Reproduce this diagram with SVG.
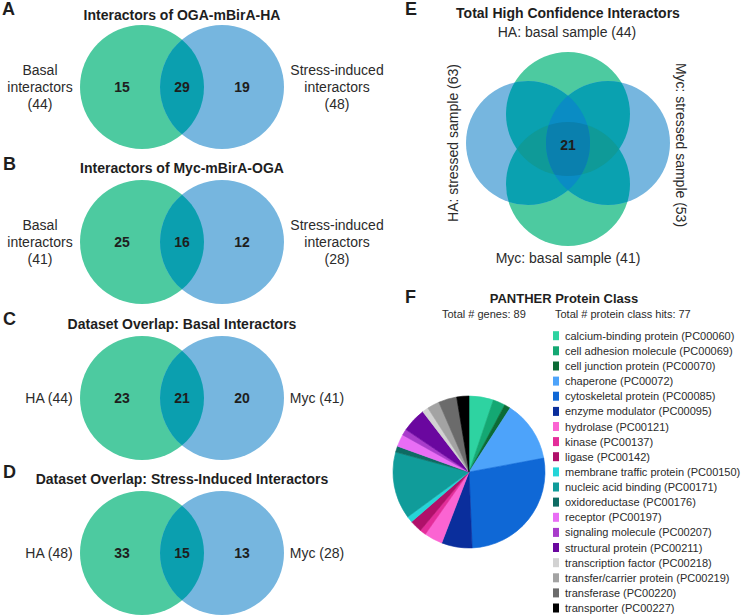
<svg xmlns="http://www.w3.org/2000/svg" width="745" height="616" viewBox="0 0 745 616">
<style>
text{font-family:"Liberation Sans",Arial,Helvetica,sans-serif;fill:#1e1e1e}
.pl{font-size:18px;font-weight:bold}
.tt{font-size:14px;font-weight:bold;text-anchor:middle}
.lb{font-size:14px;text-anchor:middle;fill:#2b2b2b}
.nm{font-size:14px;font-weight:bold;text-anchor:middle}
.lg{font-size:11px;fill:#2b2b2b}
.g{fill:#4DCAA0}
.b{fill:#76B6DF}
.ov{fill:#0B9FAF}
.gb{fill:#0AA1B0}
.gg{fill:#0F9A98}
.bb{fill:#0A8CC4}
.q{fill:#0A80AE}
.sl{stroke-width:0.6}
</style>
<defs>
<clipPath id="cGT"><circle cx="568" cy="114" r="62"/></clipPath>
<clipPath id="cGB"><circle cx="568" cy="184" r="62"/></clipPath>
<clipPath id="cBL"><circle cx="528" cy="143" r="62"/></clipPath>
<clipPath id="cBR"><circle cx="608" cy="143" r="62"/></clipPath>
</defs>

<g id="panelA">
<text class="pl" x="2" y="15">A</text>
<text class="tt" x="182" y="20">Interactors of OGA-mBirA-HA</text>
<g id="vennA">
<circle class="g" cx="142" cy="87" r="62"/>
<circle class="b" cx="222" cy="87" r="62"/>
<path class="ov" d="M182,39.63 A62,62 0 0,1 182,134.37 A62,62 0 0,1 182,39.63Z"/>
</g>
<text class="nm" x="122" y="92">15</text>
<text class="nm" x="182" y="92">29</text>
<text class="nm" x="242" y="92">19</text>
<text class="lb" x="40" y="75">Basal</text>
<text class="lb" x="40" y="92">interactors</text>
<text class="lb" x="40" y="109">(44)</text>
<text class="lb" x="337" y="75">Stress-induced</text>
<text class="lb" x="337" y="92">interactors</text>
<text class="lb" x="337" y="109">(48)</text>
</g>

<g id="panelB">
<text class="pl" x="3" y="170">B</text>
<text class="tt" x="182" y="173">Interactors of Myc-mBirA-OGA</text>
<g id="vennB">
<circle class="g" cx="142" cy="242" r="62"/>
<circle class="b" cx="222" cy="242" r="62"/>
<path class="ov" d="M182,194.63 A62,62 0 0,1 182,289.37 A62,62 0 0,1 182,194.63Z"/>
</g>
<text class="nm" x="122" y="247">25</text>
<text class="nm" x="182" y="247">16</text>
<text class="nm" x="242" y="247">12</text>
<text class="lb" x="40" y="230">Basal</text>
<text class="lb" x="40" y="247">interactors</text>
<text class="lb" x="40" y="264">(41)</text>
<text class="lb" x="337" y="230">Stress-induced</text>
<text class="lb" x="337" y="247">interactors</text>
<text class="lb" x="337" y="264">(28)</text>
</g>

<g id="panelC">
<text class="pl" x="3" y="325">C</text>
<text class="tt" x="182" y="329">Dataset Overlap: Basal Interactors</text>
<g id="vennC">
<circle class="g" cx="142" cy="398" r="62"/>
<circle class="b" cx="222" cy="398" r="62"/>
<path class="ov" d="M182,350.63 A62,62 0 0,1 182,445.37 A62,62 0 0,1 182,350.63Z"/>
</g>
<text class="nm" x="122" y="403">23</text>
<text class="nm" x="182" y="403">21</text>
<text class="nm" x="242" y="403">20</text>
<text class="lb" x="49" y="403">HA (44)</text>
<text class="lb" x="317" y="403">Myc (41)</text>
</g>

<g id="panelD">
<text class="pl" x="3" y="478">D</text>
<text class="tt" x="182" y="484">Dataset Overlap: Stress-Induced Interactors</text>
<g id="vennD">
<circle class="g" cx="142" cy="553" r="62"/>
<circle class="b" cx="222" cy="553" r="62"/>
<path class="ov" d="M182,505.63 A62,62 0 0,1 182,600.37 A62,62 0 0,1 182,505.63Z"/>
</g>
<text class="nm" x="122" y="558">33</text>
<text class="nm" x="182" y="558">15</text>
<text class="nm" x="242" y="558">13</text>
<text class="lb" x="49" y="558">HA (48)</text>
<text class="lb" x="317" y="558">Myc (28)</text>
</g>

<g id="panelE">
<text class="pl" x="405" y="15">E</text>
<text class="tt" x="568" y="18">Total High Confidence Interactors</text>
<g id="vennE">
<circle class="g" cx="568" cy="114" r="62"/>
<circle class="g" cx="568" cy="184" r="62"/>
<circle class="b" cx="528" cy="143" r="62"/>
<circle class="b" cx="608" cy="143" r="62"/>
<g clip-path="url(#cBL)"><circle class="gb" cx="568" cy="114" r="62"/><circle class="gb" cx="568" cy="184" r="62"/></g>
<g clip-path="url(#cBR)"><circle class="gb" cx="568" cy="114" r="62"/><circle class="gb" cx="568" cy="184" r="62"/></g>
<g clip-path="url(#cGB)"><circle class="gg" cx="568" cy="114" r="62"/></g>
<g clip-path="url(#cBR)"><circle class="bb" cx="528" cy="143" r="62"/></g>
<g clip-path="url(#cGB)"><g clip-path="url(#cBR)"><g clip-path="url(#cBL)"><circle class="q" cx="568" cy="114" r="62"/></g></g></g>
</g>
<text class="nm" x="568" y="150">21</text>
<text class="lb" x="567" y="37">HA: basal sample (44)</text>
<text class="lb" x="568" y="263">Myc: basal sample (41)</text>
<text class="lb" x="458" y="143" transform="rotate(-90 458 143)">HA: stressed sample (63)</text>
<text class="lb" x="676" y="145" transform="rotate(90 676 145)">Myc: stressed sample (53)</text>
</g>

<g id="panelF">
<text class="pl" x="405" y="303">F</text>
<text class="tt" x="564" y="303" style="font-size:13px">PANTHER Protein Class</text>
<text class="lg" x="442" y="318">Total # genes: 89</text>
<text class="lg" x="555" y="318">Total # protein class hits: 77</text>
<g id="pie">
<path class="sl" style="fill:#2ED3A1;stroke:#2ED3A1" d="M469,472 L469,396 A76,76 0 0,1 493.37,400.01Z"/>
<path class="sl" style="fill:#14A873;stroke:#14A873" d="M469,472 L493.37,400.01 A76,76 0 0,1 504.74,404.93Z"/>
<path class="sl" style="fill:#0B6B35;stroke:#0B6B35" d="M469,472 L504.74,404.93 A76,76 0 0,1 510.09,408.06Z"/>
<path class="sl" style="fill:#4DA3FA;stroke:#4DA3FA" d="M469,472 L510.09,408.06 A76,76 0 0,1 543.72,458.12Z"/>
<path class="sl" style="fill:#0F68D6;stroke:#0F68D6" d="M469,472 L543.72,458.12 A76,76 0 0,1 472.10,547.94Z"/>
<path class="sl" style="fill:#0A2E9C;stroke:#0A2E9C" d="M469,472 L472.10,547.94 A76,76 0 0,1 441.72,542.93Z"/>
<path class="sl" style="fill:#FB64D2;stroke:#FB64D2" d="M469,472 L441.72,542.93 A76,76 0 0,1 425.34,534.21Z"/>
<path class="sl" style="fill:#E42D9A;stroke:#E42D9A" d="M469,472 L425.34,534.21 A76,76 0 0,1 420.41,530.44Z"/>
<path class="sl" style="fill:#B0106A;stroke:#B0106A" d="M469,472 L420.41,530.44 A76,76 0 0,1 411.56,521.77Z"/>
<path class="sl" style="fill:#25D5D8;stroke:#25D5D8" d="M469,472 L411.56,521.77 A76,76 0 0,1 407.71,516.94Z"/>
<path class="sl" style="fill:#109C9A;stroke:#109C9A" d="M469,472 L407.71,516.94 A76,76 0 0,1 395.66,452.08Z"/>
<path class="sl" style="fill:#0D6B63;stroke:#0D6B63" d="M469,472 L395.66,452.08 A76,76 0 0,1 397.52,446.17Z"/>
<path class="sl" style="fill:#E96DF5;stroke:#E96DF5" d="M469,472 L397.52,446.17 A76,76 0 0,1 402.67,434.90Z"/>
<path class="sl" style="fill:#A93CCB;stroke:#A93CCB" d="M469,472 L402.67,434.90 A76,76 0 0,1 405.92,429.61Z"/>
<path class="sl" style="fill:#6A079F;stroke:#6A079F" d="M469,472 L405.92,429.61 A76,76 0 0,1 422.82,411.64Z"/>
<path class="sl" style="fill:#D2D2D2;stroke:#D2D2D2" d="M469,472 L422.82,411.64 A76,76 0 0,1 427.91,408.06Z"/>
<path class="sl" style="fill:#A3A3A3;stroke:#A3A3A3" d="M469,472 L427.91,408.06 A76,76 0 0,1 438.84,402.24Z"/>
<path class="sl" style="fill:#6B6B6B;stroke:#6B6B6B" d="M469,472 L438.84,402.24 A76,76 0 0,1 456.65,397.01Z"/>
<path class="sl" style="fill:#000000;stroke:#000000" d="M469,472 L456.65,397.01 A76,76 0 0,1 469,396Z"/>
</g>
<g id="legend">
<rect x="553" y="331.2" width="6" height="9" fill="#2ED3A1"/><text class="lg" x="565" y="339.7">calcium-binding protein (PC00060)</text>
<rect x="553" y="346.3" width="6" height="9" fill="#14A873"/><text class="lg" x="565" y="354.8">cell adhesion molecule (PC00069)</text>
<rect x="553" y="361.5" width="6" height="9" fill="#0B6B35"/><text class="lg" x="565" y="370">cell junction protein (PC00070)</text>
<rect x="553" y="376.6" width="6" height="9" fill="#4DA3FA"/><text class="lg" x="565" y="385.1">chaperone (PC00072)</text>
<rect x="553" y="391.7" width="6" height="9" fill="#0F68D6"/><text class="lg" x="565" y="400.2">cytoskeletal protein (PC00085)</text>
<rect x="553" y="406.9" width="6" height="9" fill="#0A2E9C"/><text class="lg" x="565" y="415.4">enzyme modulator (PC00095)</text>
<rect x="553" y="422" width="6" height="9" fill="#FB64D2"/><text class="lg" x="565" y="430.5">hydrolase (PC00121)</text>
<rect x="553" y="437.1" width="6" height="9" fill="#E42D9A"/><text class="lg" x="565" y="445.6">kinase (PC00137)</text>
<rect x="553" y="452.2" width="6" height="9" fill="#B0106A"/><text class="lg" x="565" y="460.7">ligase (PC00142)</text>
<rect x="553" y="467.4" width="6" height="9" fill="#25D5D8"/><text class="lg" x="565" y="475.9">membrane traffic protein (PC00150)</text>
<rect x="553" y="482.5" width="6" height="9" fill="#109C9A"/><text class="lg" x="565" y="491">nucleic acid binding (PC00171)</text>
<rect x="553" y="497.6" width="6" height="9" fill="#0D6B63"/><text class="lg" x="565" y="506.1">oxidoreductase (PC00176)</text>
<rect x="553" y="512.8" width="6" height="9" fill="#E96DF5"/><text class="lg" x="565" y="521.3">receptor (PC00197)</text>
<rect x="553" y="527.9" width="6" height="9" fill="#A93CCB"/><text class="lg" x="565" y="536.4">signaling molecule (PC00207)</text>
<rect x="553" y="543" width="6" height="9" fill="#6A079F"/><text class="lg" x="565" y="551.5">structural protein (PC00211)</text>
<rect x="553" y="558.2" width="6" height="9" fill="#D2D2D2"/><text class="lg" x="565" y="566.7">transcription factor (PC00218)</text>
<rect x="553" y="573.3" width="6" height="9" fill="#A3A3A3"/><text class="lg" x="565" y="581.8">transfer/carrier protein (PC00219)</text>
<rect x="553" y="588.4" width="6" height="9" fill="#6B6B6B"/><text class="lg" x="565" y="596.9">transferase (PC00220)</text>
<rect x="553" y="603.5" width="6" height="9" fill="#000000"/><text class="lg" x="565" y="612">transporter (PC00227)</text>
</g>
</g>
</svg>
